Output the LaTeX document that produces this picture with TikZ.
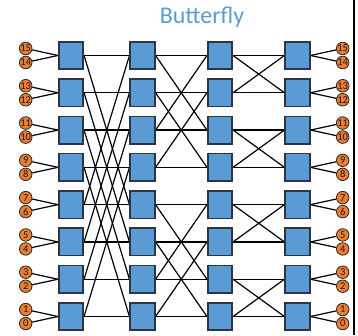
\documentclass[tikz,border=0pt]{standalone}
\usepackage{fontspec}
\setmainfont{Carlito}
\usetikzlibrary{backgrounds}
\definecolor{boxblue}{HTML}{5B9BD5}
\definecolor{boxedge}{HTML}{2E3540}
\definecolor{portorange}{HTML}{ED7D31}
\definecolor{titleblue}{HTML}{5B9BD5}
\begin{document}
\begin{tikzpicture}[x=1pt,y=-1pt,
  switch/.style={draw=boxedge, line width=1.6pt, fill=boxblue,
    minimum width=24.5pt, minimum height=27.5pt, inner sep=0pt},
  port/.style={circle, draw=black!85, line width=0.8pt, fill=portorange,
    minimum size=12.5pt, inner sep=0pt, text=black!90,
    font=\fontsize{10.5}{10.5}\selectfont},
  wire/.style={line width=1.2pt, black}]
\useasboundingbox (0,0) rectangle (358,335);

% title
\node[font=\fontsize{24}{24}\selectfont, text=titleblue, anchor=base, inner sep=0pt]
  (title) at (202,23.5) {Butterfly};

% four columns of 2x2 switches, rows 0 (bottom) to 7 (top)
\foreach \c/\x in {1/71,2/142.5,3/220,4/297.5}
  \foreach \r in {0,...,7}
    \node[switch] (s\c-\r) at (\x,{316.5-37.29*\r}) {};

% input and output terminals
\foreach \r in {0,...,7}{
  \pgfmathtruncatemacro\hi{2*\r+1}
  \pgfmathtruncatemacro\lo{2*\r}
  \pgfmathsetmacro\yy{316.5-37.29*\r}
  \node[port] (l\hi) at (25.7,\yy-7) {\hi};
  \node[port] (l\lo) at (25.7,\yy+7) {\lo};
  \node[port] (r\hi) at (342.7,\yy-7) {\hi};
  \node[port] (r\lo) at (342.7,\yy+7) {\lo};
}

\begin{pgfonlayer}{background}
  \foreach \r in {0,...,7}{
    \pgfmathtruncatemacro\hi{2*\r+1}
    \pgfmathtruncatemacro\lo{2*\r}
    \draw[wire] (l\hi) -- (s1-\r.west);
    \draw[wire] (l\lo) -- (s1-\r.west);
    \draw[wire] (s4-\r.east) -- (r\hi);
    \draw[wire] (s4-\r.east) -- (r\lo);
    \draw[wire] (s1-\r.east) -- (s2-\r.west);
    \draw[wire] (s2-\r.east) -- (s3-\r.west);
    \draw[wire] (s3-\r.east) -- (s4-\r.west);
  }
  % butterfly cross wires: partner row differs by 4, 2, 1
  \foreach \r/\p in {0/4,1/5,2/6,3/7,4/0,5/1,6/2,7/3}
    \draw[wire] (s1-\r.east) -- (s2-\p.west);
  \foreach \r/\p in {0/2,1/3,2/0,3/1,4/6,5/7,6/4,7/5}
    \draw[wire] (s2-\r.east) -- (s3-\p.west);
  \foreach \r/\p in {0/1,1/0,2/3,3/2,4/5,5/4,6/7,7/6}
    \draw[wire] (s3-\r.east) -- (s4-\p.west);
\end{pgfonlayer}

% frame edge on the right
\draw[line width=2pt] (354.3,0) -- (354.3,335);
\end{tikzpicture}
\end{document}
